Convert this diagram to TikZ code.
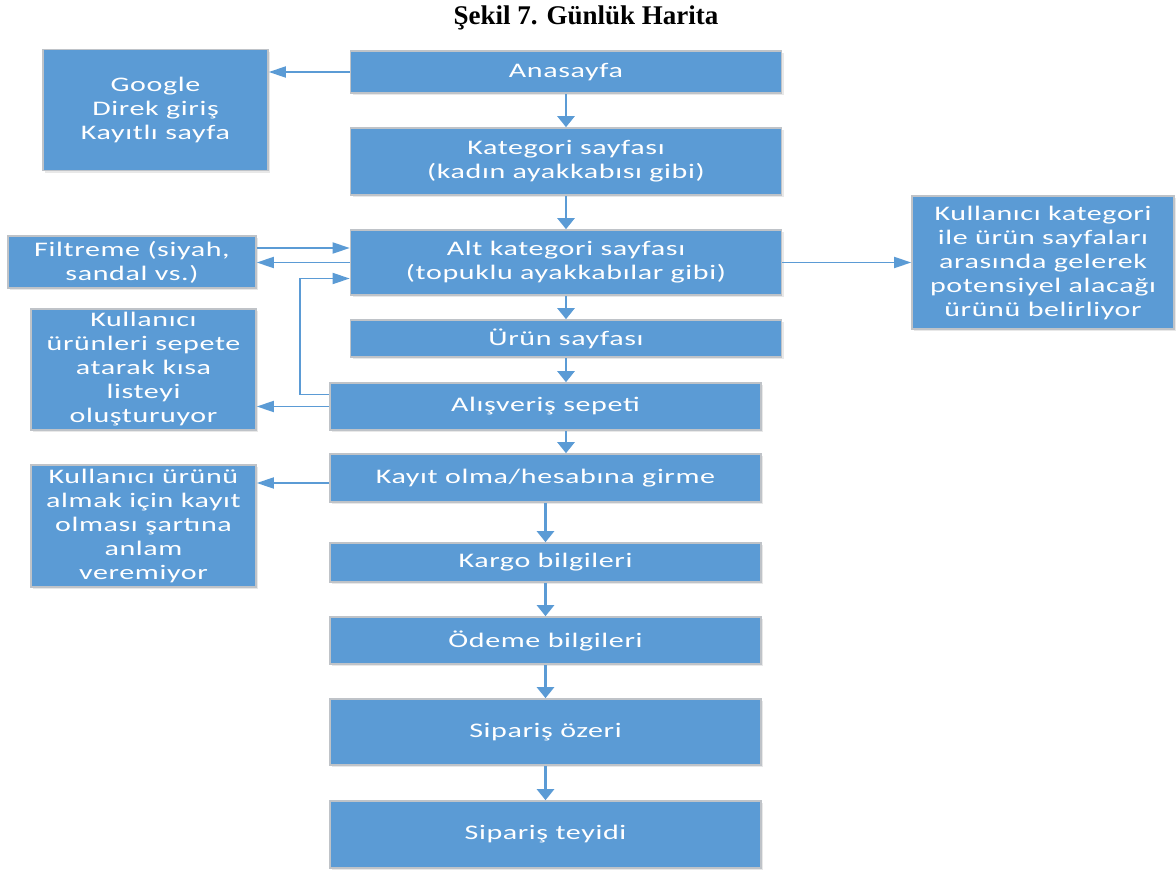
\documentclass[tikz,border=0pt]{standalone}
\usepackage{fontspec}
\usetikzlibrary{arrows.meta, shadows}
\newfontfamily\boxfont{Carlito}[FakeStretch=1.45, LetterSpace=3]
\newfontfamily\titlefont{Liberation Serif}
\definecolor{boxblue}{HTML}{5B9BD5}
\definecolor{boxedge}{HTML}{BFC3C8}
\tikzset{
	pagebox/.style={rectangle, fill=boxblue, draw=boxedge, line width=1.6pt, text=white, align=center, inner sep=0pt,
		font=\boxfont\fontsize{20.7}{24}\selectfont, drop shadow={opacity=0.18, shadow xshift=2pt, shadow yshift=-2pt}},
	hflow/.style={draw=boxblue, line width=1.8pt, -{Triangle[length=17pt, width=11pt]}},
	vflow/.style={draw=boxblue, line width=2.4pt, -{Triangle[length=11pt, width=17pt]}}
}
\begin{document}
\begin{tikzpicture}[x=1pt, y=-1pt]
	\useasboundingbox (0, 0) rectangle (1176, 873);
	% Title:
	\node (title) at (586, 18){\titlefont\bfseries\fontsize{27}{30}\selectfont Şekil 7. Günlük Harita};
	% Main column:
	\node[pagebox, minimum width=431pt, minimum height=42pt] (home) at (566, 72){Anasayfa};
	\node[pagebox, minimum width=431pt, minimum height=67pt] (cat) at (566, 161.5){Kategori sayfası\\(kadın ayakkabısı gibi)};
	\node[pagebox, minimum width=431pt, minimum height=65pt] (sub) at (566, 262.5){Alt kategori sayfası\\(topuklu ayakkabılar gibi)};
	\node[pagebox, minimum width=431pt, minimum height=37pt] (prod) at (566, 338.5){Ürün sayfası};
	\node[pagebox, minimum width=431pt, minimum height=47pt] (cart) at (545.5, 406.5){Alışveriş sepeti};
	\node[pagebox, minimum width=431pt, minimum height=48pt] (login) at (545.5, 478){Kayıt olma/hesabına girme};
	\node[pagebox, minimum width=431pt, minimum height=39pt] (cargo) at (545.5, 562.5){Kargo bilgileri};
	\node[pagebox, minimum width=431pt, minimum height=47pt] (pay) at (545.5, 640.5){Ödeme bilgileri};
	\node[pagebox, minimum width=431pt, minimum height=66pt] (summary) at (545.5, 732){Sipariş özeri};
	\node[pagebox, minimum width=431pt, minimum height=67pt] (confirm) at (545.5, 834.5){Sipariş teyidi};
	% Side notes:
	\node[pagebox, minimum width=225pt, minimum height=121pt] (entry) at (155.5, 110){Google\\Direk giriş\\Kayıtlı sayfa};
	\node[pagebox, minimum width=248pt, minimum height=52pt] (filter) at (132, 262){Filtreme (siyah,\\sandal vs.)};
	\node[pagebox, minimum width=225pt, minimum height=121pt] (shortlist) at (143.5, 369.5){Kullanıcı\\ürünleri sepete\\atarak kısa\\listeyi\\oluşturuyor};
	\node[pagebox, minimum width=225pt, minimum height=122pt] (signup) at (143.5, 526){Kullanıcı ürünü\\almak için kayıt\\olması şartına\\anlam\\veremiyor};
	\node[pagebox, minimum width=262pt, minimum height=133pt] (browse) at (1043, 262.5){Kullanıcı kategori\\ile ürün sayfaları\\arasında gelerek\\potensiyel alacağı\\ürünü belirliyor};
	% Connectors:
	\draw[vflow] (home.south) -- (cat.north);
	\draw[vflow] (cat.south) -- (sub.north);
	\draw[vflow] (sub.south) -- (prod.north);
	\draw[vflow] (prod.south) -- (prod.south |- cart.north);
	\draw[vflow] (prod.south |- cart.south) -- (prod.south |- login.north);
	\draw[vflow] (login.south) -- (cargo.north);
	\draw[vflow] (cargo.south) -- (pay.north);
	\draw[vflow] (pay.south) -- (summary.north);
	\draw[vflow] (summary.south) -- (confirm.north);
	\draw[hflow] (home.west) -- (home.west -| entry.east);
	\draw[hflow] ([yshift=14pt]filter.east) -- ([yshift=14pt]filter.east -| sub.west);
	\draw[hflow] (sub.west) -- (sub.west -| filter.east);
	\draw[hflow] ([yshift=12pt]cart.west) -- ++(-29, 0) |- ([yshift=-16pt]sub.west);
	\draw[hflow] (cart.west) -- (cart.west -| shortlist.east);
	\draw[hflow] ([yshift=-5pt]login.west) -- ([yshift=-5pt]login.west -| signup.east);
	\draw[hflow] (sub.east) -- (sub.east -| browse.west);
\end{tikzpicture}
\end{document}
